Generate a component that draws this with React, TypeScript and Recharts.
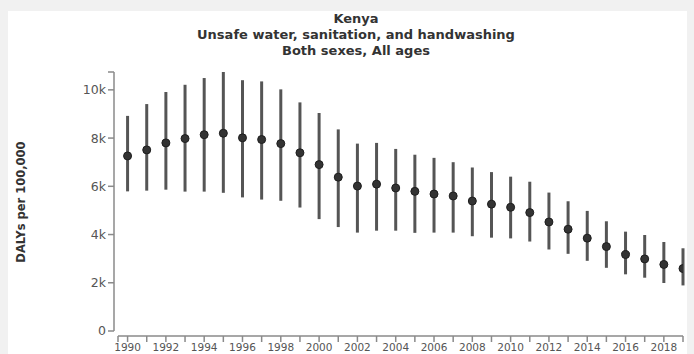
import React from 'react';
import { ComposedChart, Scatter, ErrorBar, XAxis, YAxis } from 'recharts';

// DALYs per 100,000 attributable to unsafe water, sanitation and handwashing
const years = [
  1990, 1991, 1992, 1993, 1994, 1995, 1996, 1997, 1998, 1999,
  2000, 2001, 2002, 2003, 2004, 2005, 2006, 2007, 2008, 2009,
  2010, 2011, 2012, 2013, 2014, 2015, 2016, 2017, 2018, 2019,
];
const meanDalys = [
  7260, 7510, 7800, 7980, 8140, 8200, 8010, 7940, 7770, 7390,
  6900, 6380, 6010, 6090, 5930, 5790, 5680, 5600, 5390, 5260,
  5130, 4910, 4520, 4220, 3850, 3500, 3170, 2990, 2760, 2590,
];
const upperDalys = [
  8920, 9410, 9910, 10210, 10490, 10740, 10400, 10350, 10020, 9480,
  9040, 8360, 7770, 7800, 7550, 7310, 7180, 7000, 6780, 6590,
  6400, 6190, 5740, 5380, 4980, 4550, 4120, 3980, 3690, 3430,
];
const lowerDalys = [
  5790, 5820, 5860, 5780, 5780, 5730, 5540, 5450, 5400, 5120,
  4640, 4310, 4080, 4160, 4160, 4070, 4080, 4080, 3930, 3870,
  3840, 3710, 3380, 3200, 2910, 2620, 2350, 2210, 1990, 1890,
];
const yTickValues = [0, 2000, 4000, 6000, 8000, 10000];
const xLabelYears = [
  1990, 1992, 1994, 1996, 1998, 2000, 2002, 2004,
  2006, 2008, 2010, 2012, 2014, 2016, 2018,
];
const titleLines = ['Kenya', 'Unsafe water, sanitation, and handwashing', 'Both sexes, All ages'];
const yAxisTitle = 'DALYs per 100,000';

const rows = years.map((year, i) => ({
  year,
  mean: meanDalys[i],
  err: [meanDalys[i] - lowerDalys[i], upperDalys[i] - meanDalys[i]],
}));

const yMax = Math.max(...upperDalys);
const xStart = years[0] - 0.5;
const xEnd = years[years.length - 1];
// outer ticks at both ends of each axis domain, plus the regular ticks
const xTicks = [xStart, ...years];
const yTicks = [...yTickValues, yMax];

const FONT = '"DejaVu Sans", Verdana, sans-serif';
const AXIS_GREY = '#8a8a8a';

const formatY = (v: number) => (v === yMax ? '' : v === 0 ? '0' : `${v / 1000}k`);
const formatX = (v: number) => (xLabelYears.includes(v) ? String(v) : '');

const Dot = (props: any) => {
  const { cx, cy } = props;
  if (cx == null || cy == null) return null;
  return <circle cx={cx} cy={cy} r={4} fill="#333" stroke="#1e1e1e" strokeWidth={1} />;
};

const YTitle = (props: any) => {
  const vb = props.viewBox || {};
  const cy = (vb.y ?? 0) + (vb.height ?? 0) / 2 - 2;
  const cx = 21;
  return (
    <text
      x={cx}
      y={cy}
      transform={`rotate(-90 ${cx} ${cy})`}
      textAnchor="middle"
      dominantBaseline="central"
      fontFamily={FONT}
      fontWeight="bold"
      fontSize={11.5}
      fill="#333"
    >
      {yAxisTitle}
    </text>
  );
};

export default function App() {
  return (
    <div
      style={{
        position: 'absolute',
        left: 0,
        top: 0,
        width: 694,
        height: 354,
        background: '#f1f1f1',
        overflow: 'hidden',
      }}
    >
      <div
        style={{
          position: 'absolute',
          left: 8,
          top: 11,
          width: 679,
          height: 360,
          background: '#ffffff',
        }}
      />
      <div
        style={{
          position: 'absolute',
          left: 0,
          top: 11,
          width: 712,
          textAlign: 'center',
          fontFamily: FONT,
          fontWeight: 'bold',
          fontSize: 13,
          lineHeight: '16px',
          color: '#333',
        }}
      >
        {titleLines.map((line) => (
          <div key={line}>{line}</div>
        ))}
      </div>
      <div style={{ position: 'absolute', left: 0, top: 0 }}>
        <ComposedChart
          width={694}
          height={354}
          data={rows}
          margin={{ top: 72, right: 11, bottom: 0, left: 0 }}
        >
          <XAxis
            dataKey="year"
            type="number"
            domain={[xStart, xEnd]}
            ticks={xTicks}
            interval={0}
            tickFormatter={formatX}
            padding={{ left: 4, right: 0 }}
            height={18}
            tickSize={6}
            tickMargin={2}
            axisLine={{ stroke: AXIS_GREY, strokeWidth: 1.5, strokeDasharray: '0 4 1000' }}
            tickLine={{ stroke: AXIS_GREY, strokeWidth: 1.5 }}
            tick={{ fontFamily: FONT, fontSize: 10.5, fill: '#555' }}
            allowDataOverflow
          />
          <YAxis
            type="number"
            domain={[0, yMax]}
            ticks={yTicks}
            interval={0}
            tickFormatter={formatY}
            padding={{ top: 0, bottom: 5 }}
            width={114}
            tickSize={6}
            tickMargin={2}
            axisLine={{ stroke: AXIS_GREY, strokeWidth: 1.5, strokeDasharray: '259 100' }}
            tickLine={{ stroke: AXIS_GREY, strokeWidth: 1.5 }}
            tick={{ fontFamily: FONT, fontSize: 12.5, fill: '#555' }}
            label={<YTitle />}
            allowDataOverflow
          />
          <Scatter dataKey="mean" shape={<Dot />} isAnimationActive={false}>
            <ErrorBar
              dataKey="err"
              direction="y"
              width={0}
              stroke="#555"
              strokeWidth={3}
              isAnimationActive={false}
            />
          </Scatter>
        </ComposedChart>
      </div>
    </div>
  );
}
